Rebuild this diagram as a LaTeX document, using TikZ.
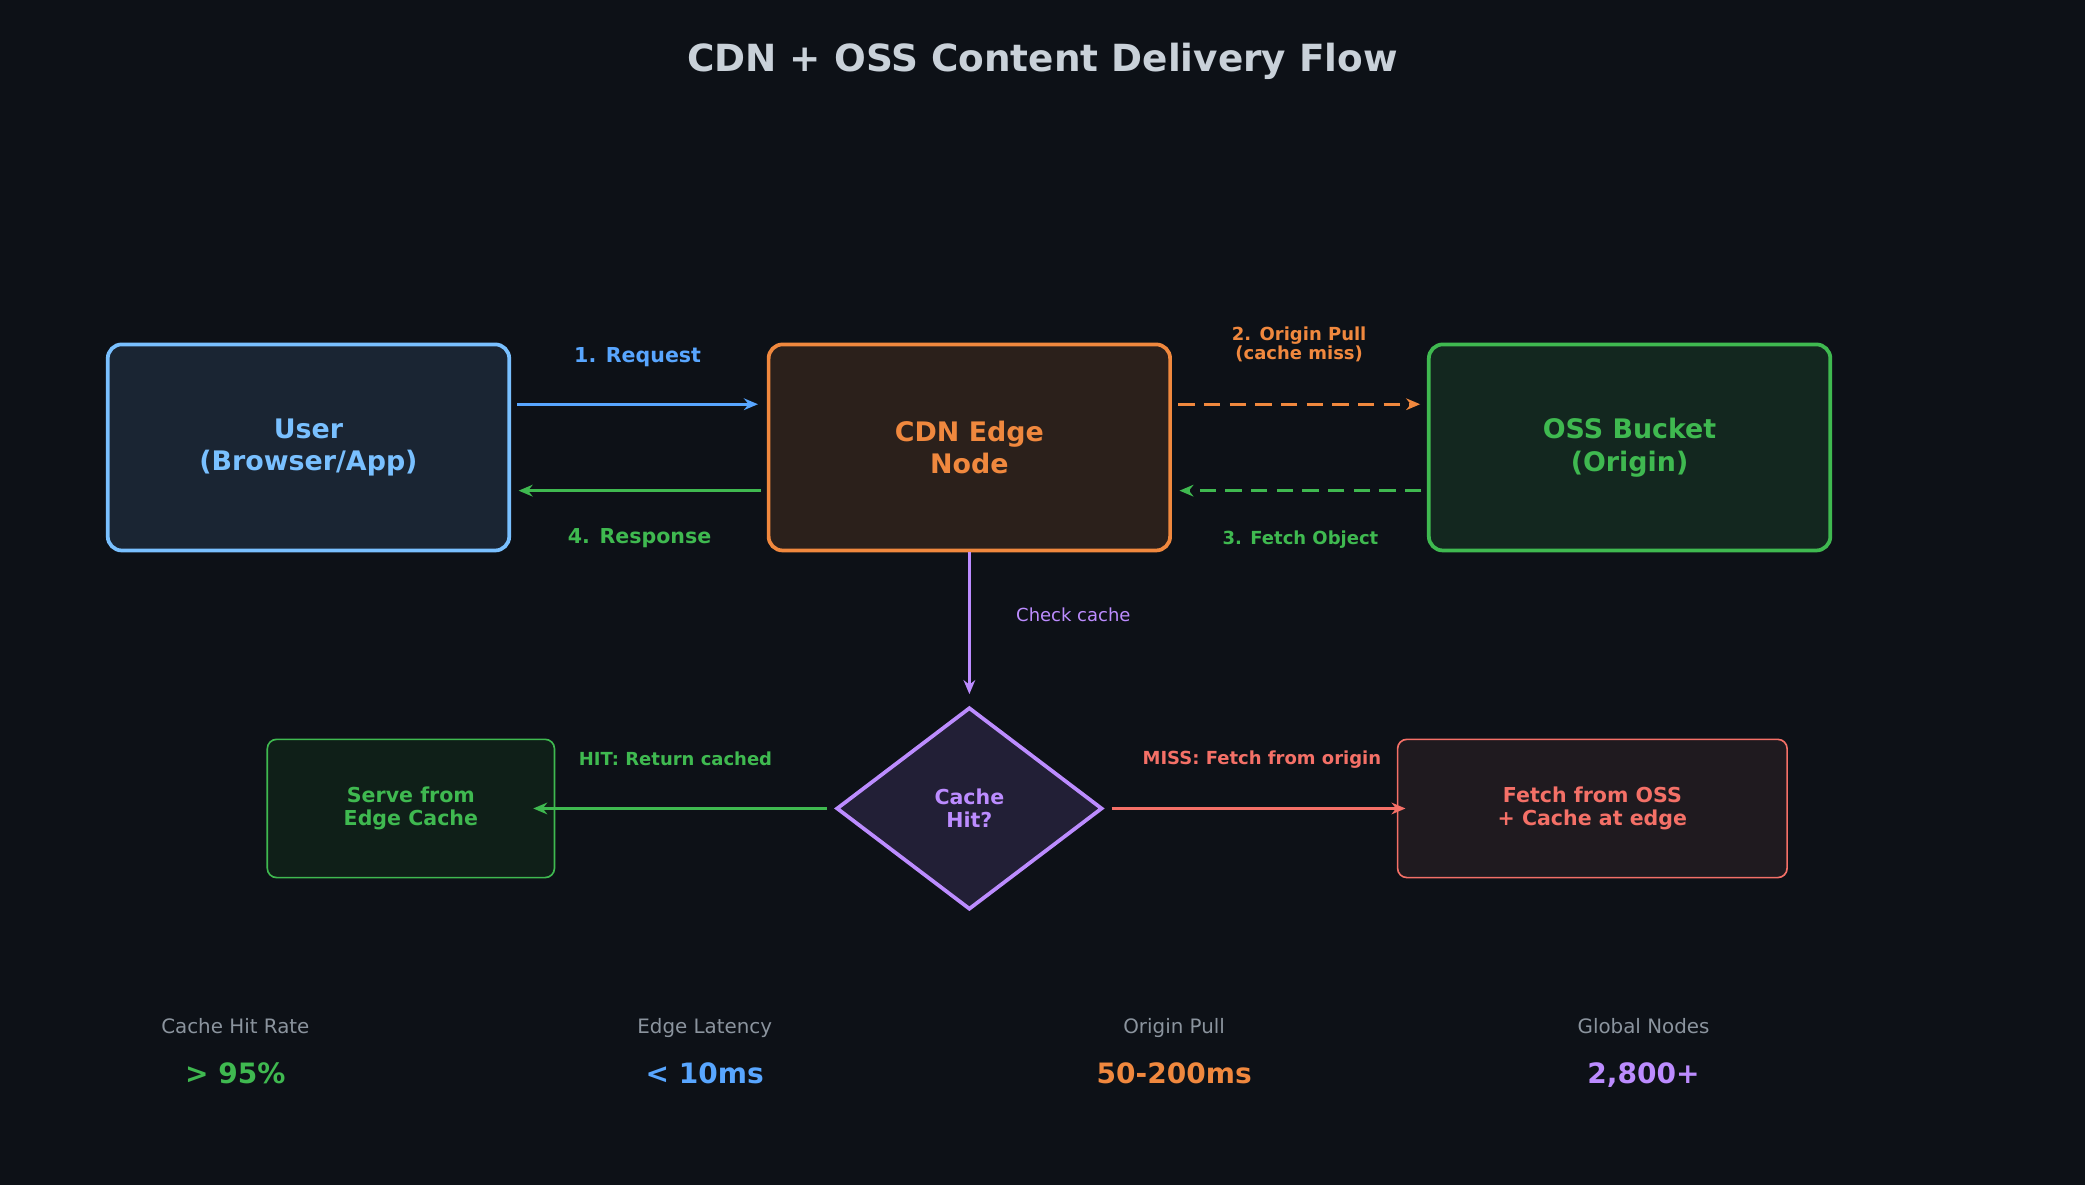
\documentclass[tikz,border=0pt]{standalone}
\usepackage{fontspec}
\setmainfont{DejaVu Sans}
\usetikzlibrary{shapes.geometric}
\usetikzlibrary{arrows.meta}
\definecolor{bg}{HTML}{0D1117}
\definecolor{ublue}{HTML}{79C0FF}
\definecolor{ablue}{HTML}{58A6FF}
\definecolor{corange}{HTML}{F0883E}
\definecolor{ogreen}{HTML}{3FB950}
\definecolor{cpurple}{HTML}{BC8CFF}
\definecolor{msalmon}{HTML}{F47067}
\definecolor{ttext}{HTML}{C9D1D9}
\definecolor{sgray}{HTML}{8B949E}
\definecolor{ufill}{HTML}{1A2533}
\definecolor{cfill}{HTML}{2B201B}
\definecolor{ofill}{HTML}{13271F}
\definecolor{dfill}{HTML}{221F36}
\definecolor{sfill}{HTML}{0F1F18}
\definecolor{ffill}{HTML}{1F1A1F}
\tikzset{
  big/.style={draw, line width=1.6pt, rounded corners=6pt, minimum width=6.04cm,
    minimum height=3.1cm, align=center, font=\fontsize{11.5}{14}\selectfont\bfseries},
  small/.style={draw, line width=0.7pt, rounded corners=4pt, minimum height=2.08cm,
    align=center, font=\fontsize{8.8}{10}\selectfont\bfseries},
  lbl/.style={font=\fontsize{7.7}{8.2}\selectfont\bfseries, align=center},
  flow/.style={line width=1.4pt, -{Stealth[length=6pt,width=5pt]}},
  dashflow/.style={dash pattern=on 7pt off 4pt},
  stat/.style={font=\fontsize{8.5}{10}\selectfont, text=sgray, anchor=base},
  val/.style={font=\fontsize{12}{14}\selectfont\bfseries, anchor=base}
}
\begin{document}
\begin{tikzpicture}[x=0.02cm,y=-0.02cm]
        \fill[bg] (0,0) rectangle (1568,891);
        \node[font=\fontsize{16}{18}\selectfont\bfseries, text=ttext] (ttl) at (784,46)
        {CDN + OSS Content Delivery Flow};

        \node[big, draw=ublue, fill=ufill, text=ublue] (usr) at (232,336.5)
        {User\\(Browser/App)};
        \node[big, draw=corange, fill=cfill, text=corange] (cdn)
        at (729,336.5) {CDN Edge\\Node};
        \node[big, draw=ogreen, fill=ofill, text=ogreen] (oss)
        at (1225.5,336.5) {OSS Bucket\\(Origin)};

        \coordinate (u1) at (389,304); \coordinate (c1) at (570,304);
        \coordinate (u2) at (390,369); \coordinate (c2) at (572,369);
        \coordinate (c3) at (886,304); \coordinate (o3) at (1068,304);
        \coordinate (c4) at (887,369); \coordinate (o4) at (1069,369);

        \draw[flow, ablue] (u1) -- (c1) node[lbl, midway, above=12pt, text=ablue]
        {\fontsize{8.8}{10}\selectfont 1. Request};
        \draw[flow, ogreen] (c2) -- (u2) node[lbl, midway, below=12pt, text=ogreen]
        {\fontsize{8.8}{10}\selectfont 4. Response};
        \draw[flow, corange, dashflow] (c3) -- (o3)
        node[lbl, midway, above=14pt, text=corange] {2. Origin Pull\\(cache miss)};
        \draw[flow, ogreen, dashflow] (o4) -- (c4)
        node[lbl, midway, below=13pt, text=ogreen] {3. Fetch Object};

        \node[diamond, draw=cpurple, line width=1.6pt, fill=dfill,
        minimum width=4cm, minimum height=3.04cm, inner sep=0pt, text=cpurple,
        align=center, font=\fontsize{8.8}{10}\selectfont\bfseries] (hit) at (729,608)
        {Cache\\Hit?};
        \node[small, draw=ogreen, fill=sfill, text=ogreen,
        minimum width=4.32cm] (srv) at (309,608) {Serve from\\Edge Cache};
        \node[small, draw=msalmon, fill=ffill, text=msalmon,
        minimum width=5.86cm] (fch) at (1197.5,608) {Fetch from OSS\\+ Cache at edge};

        \coordinate (h0) at (729,522);
        \draw[flow, cpurple] (cdn) -- (h0);
        \node[font=\fontsize{7.7}{9}\selectfont, text=cpurple, anchor=west] (chk) at (758,462)
        {Check cache};

        \coordinate (hl) at (622,608); \coordinate (sl) at (401,608);
        \coordinate (hr) at (836,608); \coordinate (fr) at (1057,608);
        \draw[flow, ogreen] (hl) -- (sl);
        \draw[flow, msalmon] (hr) -- (fr);
        \node[lbl, text=ogreen] (hitl) at (508,571) {HIT: Return cached};
        \node[lbl, text=msalmon] (misl) at (949,571) {MISS: Fetch from origin};

        \foreach \x/\n/\v/\c in {177/Cache Hit Rate/> 95\%/ogreen, 530/Edge Latency/< 10ms/ablue,
          883/Origin Pull/50-200ms/corange, 1236/Global Nodes/{2,800+}/cpurple} {
          \node[stat] (s\x) at (\x,777) {\n};
          \node[val, text=\c] (v\x) at (\x,815) {\v};
        }
      \end{tikzpicture}
\end{document}
